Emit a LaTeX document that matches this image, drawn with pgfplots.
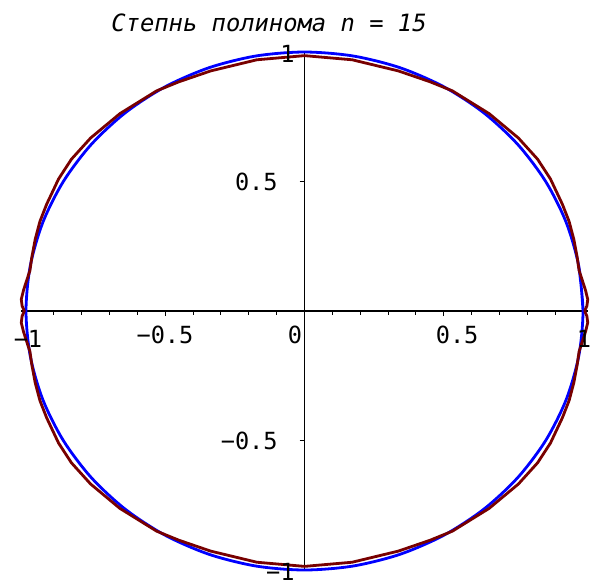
\documentclass[border=0pt]{standalone}
\usepackage{fontspec}
\setmainfont{DejaVu Sans Mono}
\usepackage{pgfplots}
\pgfplotsset{compat=1.18}
\definecolor{approx}{RGB}{120,0,0}
\definecolor{exact}{RGB}{0,0,255}
\newcommand{\lbl}{\fontsize{11.8}{14}\selectfont}
\begin{document}
\begin{tikzpicture}
\begin{axis}[
  x=139.25pt, y=129.5pt,
  axis lines=middle,
  axis line style={-, line width=0.9pt, black},
  xmin=-1.017, xmax=1.017, ymin=-1, ymax=1,
  clip=false,
  xtick={-1,-0.5,0,0.5,1}, ytick={-1,-0.5,0.5,1},
  minor tick num=4,
  xticklabels=\empty, yticklabels=\empty,
  tick align=outside,
  major tick length=2.5pt, minor tick length=1.8pt,
  tick style={black, line width=0.5pt},
]
% unit circle
\addplot[exact, line width=1.4pt, smooth, line join=round] coordinates {
(1,0) (0.9848,0.1736) (0.9397,0.3420) (0.8660,0.5) (0.7660,0.6428)
(0.6428,0.7660) (0.5,0.8660) (0.3420,0.9397) (0.1736,0.9848) (0,1)
(-0.1736,0.9848) (-0.3420,0.9397) (-0.5,0.8660) (-0.6428,0.7660) (-0.7660,0.6428)
(-0.8660,0.5) (-0.9397,0.3420) (-0.9848,0.1736) (-1,0)
(-0.9848,-0.1736) (-0.9397,-0.3420) (-0.8660,-0.5) (-0.7660,-0.6428) (-0.6428,-0.7660)
(-0.5,-0.8660) (-0.3420,-0.9397) (-0.1736,-0.9848) (0,-1)
(0.1736,-0.9848) (0.3420,-0.9397) (0.5,-0.8660) (0.6428,-0.7660) (0.7660,-0.6428)
(0.8660,-0.5) (0.9397,-0.3420) (0.9848,-0.1736) (1,0) (0.9848,0.1736)
};
% polynomial curve, degree 15
\addplot[approx, line width=1.4pt, line join=round] coordinates {
(1.006,0) (1.014,0.020) (1.017,0.045) (1.009,0.080) (0.997,0.120) (0.986,0.156)
(0.979,0.208) (0.967,0.277) (0.950,0.346) (0.926,0.412) (0.883,0.510) (0.837,0.586)
(0.768,0.668) (0.663,0.762) (0.531,0.850) (0.451,0.885) (0.337,0.927) (0.171,0.970)
(0,0.986)
(-0.171,0.970) (-0.337,0.927) (-0.451,0.885) (-0.531,0.850) (-0.663,0.762) (-0.768,0.668)
(-0.837,0.586) (-0.883,0.510) (-0.926,0.412) (-0.950,0.346) (-0.967,0.277) (-0.979,0.208)
(-0.986,0.156) (-0.997,0.120) (-1.009,0.080) (-1.017,0.045) (-1.014,0.020) (-1.006,0)
(-1.014,-0.020) (-1.017,-0.045) (-1.009,-0.080) (-0.997,-0.120) (-0.986,-0.156)
(-0.979,-0.208) (-0.967,-0.277) (-0.950,-0.346) (-0.926,-0.412) (-0.883,-0.510) (-0.837,-0.586)
(-0.768,-0.668) (-0.663,-0.762) (-0.531,-0.850) (-0.451,-0.885) (-0.337,-0.927) (-0.171,-0.970)
(0,-0.986)
(0.171,-0.970) (0.337,-0.927) (0.451,-0.885) (0.531,-0.850) (0.663,-0.762) (0.768,-0.668)
(0.837,-0.586) (0.883,-0.510) (0.926,-0.412) (0.950,-0.346) (0.967,-0.277) (0.979,-0.208)
(0.986,-0.156) (0.997,-0.120) (1.009,-0.080) (1.017,-0.045) (1.014,-0.020) (1.006,0)
};
% tick labels
\node[anchor=base, inner sep=0pt, font=\lbl] at (axis cs:-0.993,-0.139) {−1};
\node[anchor=base, inner sep=0pt, font=\lbl] at (axis cs:-0.501,-0.127) {−0.5};
\node[anchor=base, inner sep=0pt, font=\lbl] at (axis cs:-0.034,-0.127) {0};
\node[anchor=base, inner sep=0pt, font=\lbl] at (axis cs:0.548,-0.127) {0.5};
\node[anchor=base, inner sep=0pt, font=\lbl] at (axis cs:1.0036,-0.139) {1};
\node[anchor=base east, inner sep=0pt, font=\lbl] at (axis cs:-0.034,0.959) {1};
\node[anchor=base east, inner sep=0pt, font=\lbl] at (axis cs:-0.095,0.465) {0.5};
\node[anchor=base east, inner sep=0pt, font=\lbl] at (axis cs:-0.095,-0.535) {−0.5};
\node[anchor=base east, inner sep=0pt, font=\lbl] at (axis cs:-0.034,-1.041) {−1};
% title
\node[anchor=base, inner sep=0pt, font=\itshape\fontsize{11.9}{14}\selectfont]
  at (axis cs:-0.1275,1.0784) {Степнь полинома n = 15};
\coordinate (bbl) at (axis cs:-1.0934,-1.0502);
\coordinate (btr) at (axis cs:1.0287,1.2008);
\end{axis}
\pgfresetboundingbox
\useasboundingbox (bbl) rectangle (btr);
\end{tikzpicture}
\end{document}
